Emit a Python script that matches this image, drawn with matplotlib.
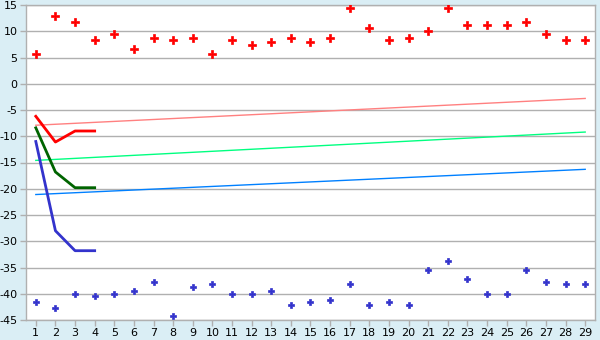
import matplotlib
matplotlib.use('Agg')
import matplotlib.pyplot as plt
from matplotlib import rcParams

rcParams['axes.unicode_minus'] = False
rcParams['font.family'] = 'DejaVu Sans'

days = list(range(1, 30))
maxv = [5.6, 12.9, 11.7, 8.3, 9.4, 6.7, 8.8, 8.3, 8.8, 5.6,
        8.3, 7.3, 7.9, 8.8, 7.9, 8.8, 14.4, 10.6, 8.3, 8.8,
        10.0, 14.4, 11.1, 11.1, 11.1, 11.7, 9.4, 8.3, 8.3]
minv = [-41.6, -42.7, -40.0, -40.5, -40.0, -39.4, -37.8, -44.2, -38.8, -38.2,
        -40.0, -40.0, -39.4, -42.2, -41.6, -41.1, -38.2, -42.2, -41.6, -42.2,
        -35.5, -33.8, -37.2, -40.0, -40.0, -35.5, -37.8, -38.2, -38.2]

short_x = [1, 2, 3, 4]
red_line = [-6.2, -11.1, -9.0, -9.0]
green_line = [-8.4, -16.8, -19.8, -19.8]
blue_line = [-11.0, -28.0, -31.8, -31.8]

trend_x = [1, 29]
trend_red = [-7.9, -2.8]
trend_green = [-14.6, -9.2]
trend_blue = [-21.1, -16.3]

bg = '#daeef5'
grid_c = '#b0b0b0'

fig = plt.figure(figsize=(6, 3.4), dpi=100, facecolor=bg)
ax = fig.add_axes([26/600, 1-320/340, 569/600, 315/340])
ax.set_facecolor('white')

for v in range(-45, 16, 5):
    ax.axhline(v, color=grid_c, lw=1, zorder=0)

ax.plot(trend_x, trend_red, color='#ff8080', lw=1, zorder=2)
ax.plot(trend_x, trend_green, color='#00ff80', lw=1, zorder=2)
ax.plot(trend_x, trend_blue, color='#0080ff', lw=1, zorder=2)

ax.plot(short_x, red_line, color='#ff0000', lw=2, zorder=3)
ax.plot(short_x, green_line, color='#006400', lw=2, zorder=3)
ax.plot(short_x, blue_line, color='#3333cc', lw=2, zorder=3)

ax.plot(days, maxv, ls='none', marker='P', ms=6, color='#ff0000',
        mec='#ff0000', mew=0.5, zorder=4)
ax.plot(days, minv, ls='none', marker='P', ms=5, color='#3333cc',
        mec='#3333cc', mew=0.5, zorder=4)

ax.set_xlim(0.5, 29.5)
ax.set_ylim(-45, 15)
ax.set_xticks(days)
ax.set_yticks(range(-45, 16, 5))
ax.tick_params(axis='both', labelsize=8, length=4, width=1, color=grid_c, pad=2)
for s in ax.spines.values():
    s.set_color(grid_c)
    s.set_linewidth(1)

fig.savefig('out.png', dpi=100, facecolor=bg)
